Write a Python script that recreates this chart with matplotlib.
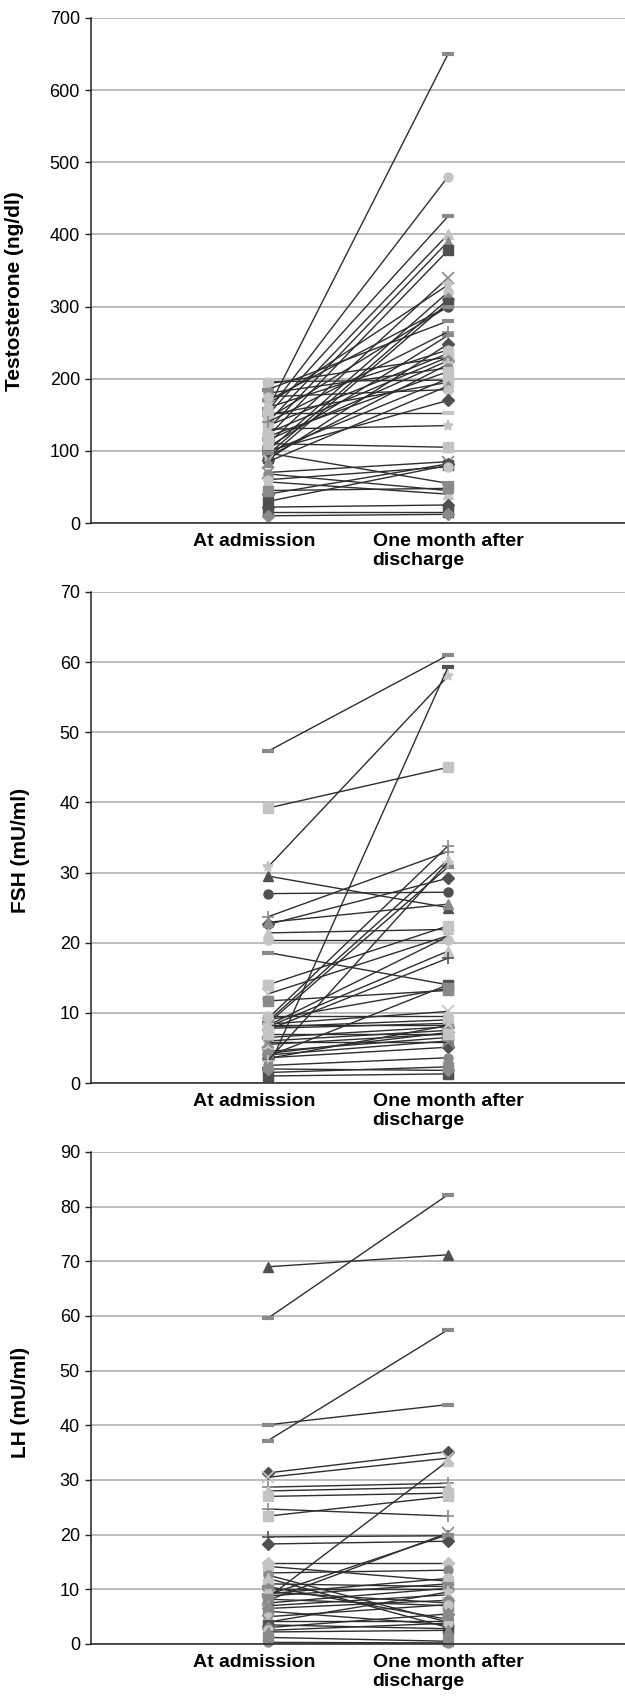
import matplotlib
matplotlib.use("Agg")
import matplotlib.pyplot as plt
from matplotlib.transforms import ScaledTranslation

plt.rcParams['font.family'] = ['Liberation Sans', 'DejaVu Sans']

categories = ["At admission", "One month after\ndischarge"]

testo_admission = [196, 193, 158, 155, 150, 140, 130, 120, 110, 165, 100, 95, 90, 145, 170,
                   185, 105, 88, 160, 135, 125, 115, 92, 180, 98, 150, 85, 175, 100, 153,
                   130, 110, 97, 70, 40, 30, 68, 57, 45, 22, 15, 10, 60, 120, 140]
testo_month = [198, 230, 650, 480, 425, 400, 390, 378, 340, 330, 320, 310, 305, 300, 300,
               280, 260, 248, 240, 235, 230, 225, 220, 215, 200, 195, 190, 185, 170, 153,
               135, 105, 55, 85, 82, 80, 45, 40, 48, 25, 15, 12, 78, 210, 265]
testo_ticks = [0, 100, 200, 300, 400, 500, 600, 700]

fsh_admission = [47.3, 39.2, 30.8, 2.0, 29.5, 27.0, 22.6, 23.7, 22.9, 21.4, 20.4, 18.6, 14.0,
                 12.7, 11.7, 9.2, 8.8, 8.5, 8.2, 8.0, 7.6, 3.8, 9.0, 8.4, 8.0, 7.8, 6.5, 6.0,
                 5.5, 4.5, 4.0, 3.6, 3.5, 2.5, 1.5, 1.0, 8.3, 9.5, 4.2, 5.8, 3.2, 7.0, 2.0]
fsh_month = [61.0, 45.0, 58.0, 59.3, 25.0, 27.2, 29.2, 33.0, 25.5, 21.9, 20.4, 14.0, 22.4,
             21.0, 13.2, 33.8, 31.8, 30.8, 20.9, 18.8, 17.8, 14.0, 13.5, 10.2, 9.0, 8.5, 8.0,
             7.5, 7.0, 6.5, 6.0, 5.1, 8.2, 3.6, 2.3, 1.3, 8.3, 9.5, 7.2, 5.8, 31.5, 7.0, 1.8]
fsh_ticks = [0, 10, 20, 30, 40, 50, 60, 70]

lh_admission = [69.0, 59.6, 40.1, 37.2, 31.3, 30.5, 8.5, 28.7, 28.0, 27.0, 24.7, 23.4, 19.6,
                18.3, 8.0, 9.0, 14.9, 13.0, 14.2, 12.6, 12.0, 11.0, 10.0, 9.5, 9.2, 8.8, 8.2,
                7.5, 7.0, 6.5, 6.0, 5.0, 4.2, 4.0, 3.5, 3.0, 2.5, 2.2, 1.2, 0.3, 10.5]
lh_month = [71.2, 82.2, 43.8, 57.5, 35.2, 34.0, 33.5, 29.4, 28.7, 27.6, 23.4, 27.0, 19.8,
            18.8, 20.3, 20.0, 14.9, 13.5, 11.5, 4.0, 3.0, 10.5, 10.0, 7.5, 12.0, 11.0, 7.0,
            10.2, 9.0, 8.0, 3.5, 7.2, 4.2, 9.5, 2.8, 5.5, 3.8, 2.5, 0.5, 0.2, 4.5]
lh_ticks = [0, 10, 20, 30, 40, 50, 60, 70, 80, 90]

ylabels = ["Testosterone (ng/dl)", "FSH (mU/ml)", "LH (mU/ml)"]

# ---- styles (marker code + shade index), separate from the data ----
shades = ['#505050', '#8a8a8a', '#c4c4c4']
styles = [
    ["o2", "s2", "_1", "o2", "_1", "^2", "^1", "s0", "x1", "*2", "o2", "D1", "s0", "o0", "_1",
     "_1", "_1", "D0", "o2", "s2", "^2", "D1", "*2", "o1", "+2", "s2", "^1", "o2", "D0", "_2",
     "*2", "s2", "_1", "x1", "D0", "s0", "o1", "^2", "s1", "D0", "s0", "D1", "o2", "s2", "+1"],
    ["_1", "s2", "*2", "_0", "^0", "o0", "D0", "+1", "^1", "^2", "o2", "_1", "s2", "x2", "s1",
     "+1", "^2", "_1", "x2", "^2", "+0", "s0", "s1", "x2", "o1", "s2", "D1", "o2", "x1", "*2",
     "s1", "D0", "+1", "o1", "s1", "s0", "^2", "o2", "D1", "x1", "+2", "s2", "D1"],
    ["^0", "_1", "_1", "_1", "D0", "x2", "^2", "+1", "^2", "s2", "+1", "s2", "+0", "D0", "x1",
     "_1", "D2", "o1", "s2", "o1", "^2", "s2", "D1", "x2", "o2", "_1", "s1", "+1", "^2", "D1",
     "s1", "o2", "x1", "*2", "s0", "D1", "o2", "^1", "s1", "o1", "_1"],
]

W, H = 625, 1698
fig = plt.figure(figsize=(W / 100, H / 100), dpi=100)

panels = [
    (testo_admission, testo_month, testo_ticks, 18, 523),
    (fsh_admission, fsh_month, fsh_ticks, 592, 1083),
    (lh_admission, lh_month, lh_ticks, 1152, 1644),
]
label_centers = [291, 850, 1402]
label_x = [24, 30, 30]

for p, (adm, mon, ticks, top, bot) in enumerate(panels):
    left = 91
    ax = fig.add_axes([left / W, 1 - bot / H, (W - left) / W, (bot - top) / H])
    ax.set_xlim(-0.983, 1.983)
    ax.set_ylim(ticks[0], ticks[-1])
    ax.set_yticks(ticks)
    ax.set_yticklabels([str(t) for t in ticks], fontsize=13)
    ax.yaxis.grid(True, color='#a8a8a8', linewidth=1.1)
    ax.set_axisbelow(True)
    for s in ['top', 'right']:
        ax.spines[s].set_visible(False)
    ax.spines['left'].set_color('#222222')
    ax.spines['bottom'].set_color('#222222')
    ax.spines['left'].set_linewidth(1.1)
    ax.spines['bottom'].set_linewidth(1.1)
    ax.spines['bottom'].set_zorder(5)
    ax.tick_params(axis='y', length=4, width=1.0, direction='out', pad=4, color='#222222')
    ax.set_xticks([0, 1])
    ax.set_xticklabels(categories, fontsize=14, fontweight='bold', multialignment='left')
    ax.tick_params(axis='x', length=0, pad=7)
    first = ax.get_xticklabels()[0]
    first.set_transform(first.get_transform() +
                        ScaledTranslation(-0.14, 0, fig.dpi_scale_trans))

    st = styles[p]
    for i, (a, b) in enumerate(zip(adm, mon)):
        code = st[i % len(st)]
        m = code[0]
        c = shades[int(code[1])]
        kw = dict(marker=m, markersize=6.5, markerfacecolor=c, markeredgecolor=c,
                  markeredgewidth=1.0)
        if m in ('x', '+', '*'):
            kw.update(markersize=8, markeredgewidth=1.2)
        if m == '_':
            kw.update(markersize=8, markeredgewidth=3)
        if m == '^':
            kw.update(markersize=7.5)
        ax.plot([0, 1], [a, b], color='#2e2e2e', linewidth=1.0, clip_on=False,
                zorder=3, **kw)

    ax.set_ylabel(ylabels[p], fontsize=15, fontweight='bold')
    ax.yaxis.set_label_coords((label_x[p] - left) / (W - left),
                              (bot - label_centers[p]) / (bot - top))

fig.savefig("out.png", dpi=100)
